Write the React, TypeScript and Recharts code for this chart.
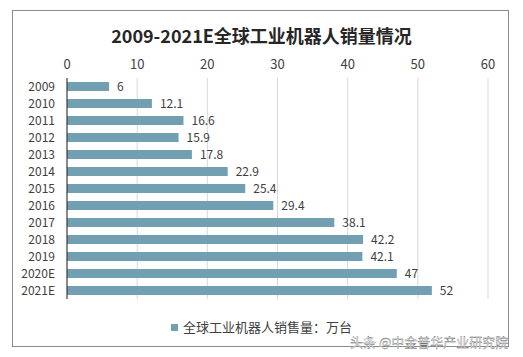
import React from 'react';
import { BarChart, Bar, XAxis, YAxis, CartesianGrid, LabelList } from 'recharts';

const years = ['2009', '2010', '2011', '2012', '2013', '2014', '2015', '2016', '2017', '2018', '2019', '2020E', '2021E'];
const sales = [6, 12.1, 16.6, 15.9, 17.8, 22.9, 25.4, 29.4, 38.1, 42.2, 42.1, 47, 52];
const xTicks = [0, 10, 20, 30, 40, 50, 60];
const seriesName = '全球工业机器人销售量：万台';
const title = '2009-2021E全球工业机器人销量情况';
const watermark = '头条 @中金普华产业研究院';

const data = years.map((y, i) => ({ year: y, value: sales[i] }));

const FONT = "'Noto Sans CJK SC', 'Noto Sans', sans-serif";
const BAR_COLOR = '#729fb1';

export default function App() {
  return (
    <div style={{ position: 'absolute', left: 0, top: 0, width: 523, height: 357, background: '#fff', fontFamily: FONT }}>
      <div style={{ position: 'absolute', left: 12, top: 10, width: 497, height: 337, border: '1px solid #8c8c8c', boxSizing: 'border-box' }} />
      <div style={{ position: 'absolute', left: 0, top: 22, width: 523, textAlign: 'center', fontSize: 18, fontWeight: 'bold', color: '#262626', lineHeight: '26px' }}>
        {title}
      </div>
      <div style={{ position: 'absolute', left: 0, top: 0 }}>
        <BarChart
          width={523}
          height={357}
          data={data}
          layout="vertical"
          margin={{ top: 58, right: 35, bottom: 58, left: 17 }}
        >
          <CartesianGrid horizontal={false} vertical={true} stroke="#d9d9d9" />
          <XAxis
            type="number"
            orientation="top"
            domain={[0, 60]}
            ticks={xTicks}
            height={20}
            axisLine={false}
            tickLine={false}
            tickSize={0}
            tickMargin={9}
            tick={{ fontSize: 13, fill: '#404040', fontFamily: FONT }}
            interval={0}
          />
          <YAxis
            type="category"
            dataKey="year"
            width={50}
            axisLine={{ stroke: '#262626', strokeWidth: 1 }}
            tickLine={false}
            tickSize={0}
            tickMargin={12}
            tick={{ fontSize: 12, fill: '#404040', fontFamily: FONT }}
            interval={0}
          />
          <Bar dataKey="value" name={seriesName} fill={BAR_COLOR} barSize={9} isAnimationActive={false}>
            <LabelList dataKey="value" position="right" offset={8} style={{ fontSize: 12, fill: '#404040', fontFamily: FONT }} />
          </Bar>
        </BarChart>
      </div>
      <div style={{ position: 'absolute', left: 0, top: 318, width: 523, display: 'flex', alignItems: 'center', justifyContent: 'center', fontSize: 13, color: '#404040', lineHeight: '18px' }}>
        <span style={{ display: 'inline-block', width: 7, height: 7, background: BAR_COLOR, marginRight: 5 }} />
        <span>{seriesName}</span>
      </div>
      <div style={{ position: 'absolute', left: 350, top: 333, fontSize: 13, color: '#ffffff', WebkitTextStroke: '0.3px #555', lineHeight: '18px', whiteSpace: 'nowrap' }}>
        {watermark}
      </div>
    </div>
  );
}
